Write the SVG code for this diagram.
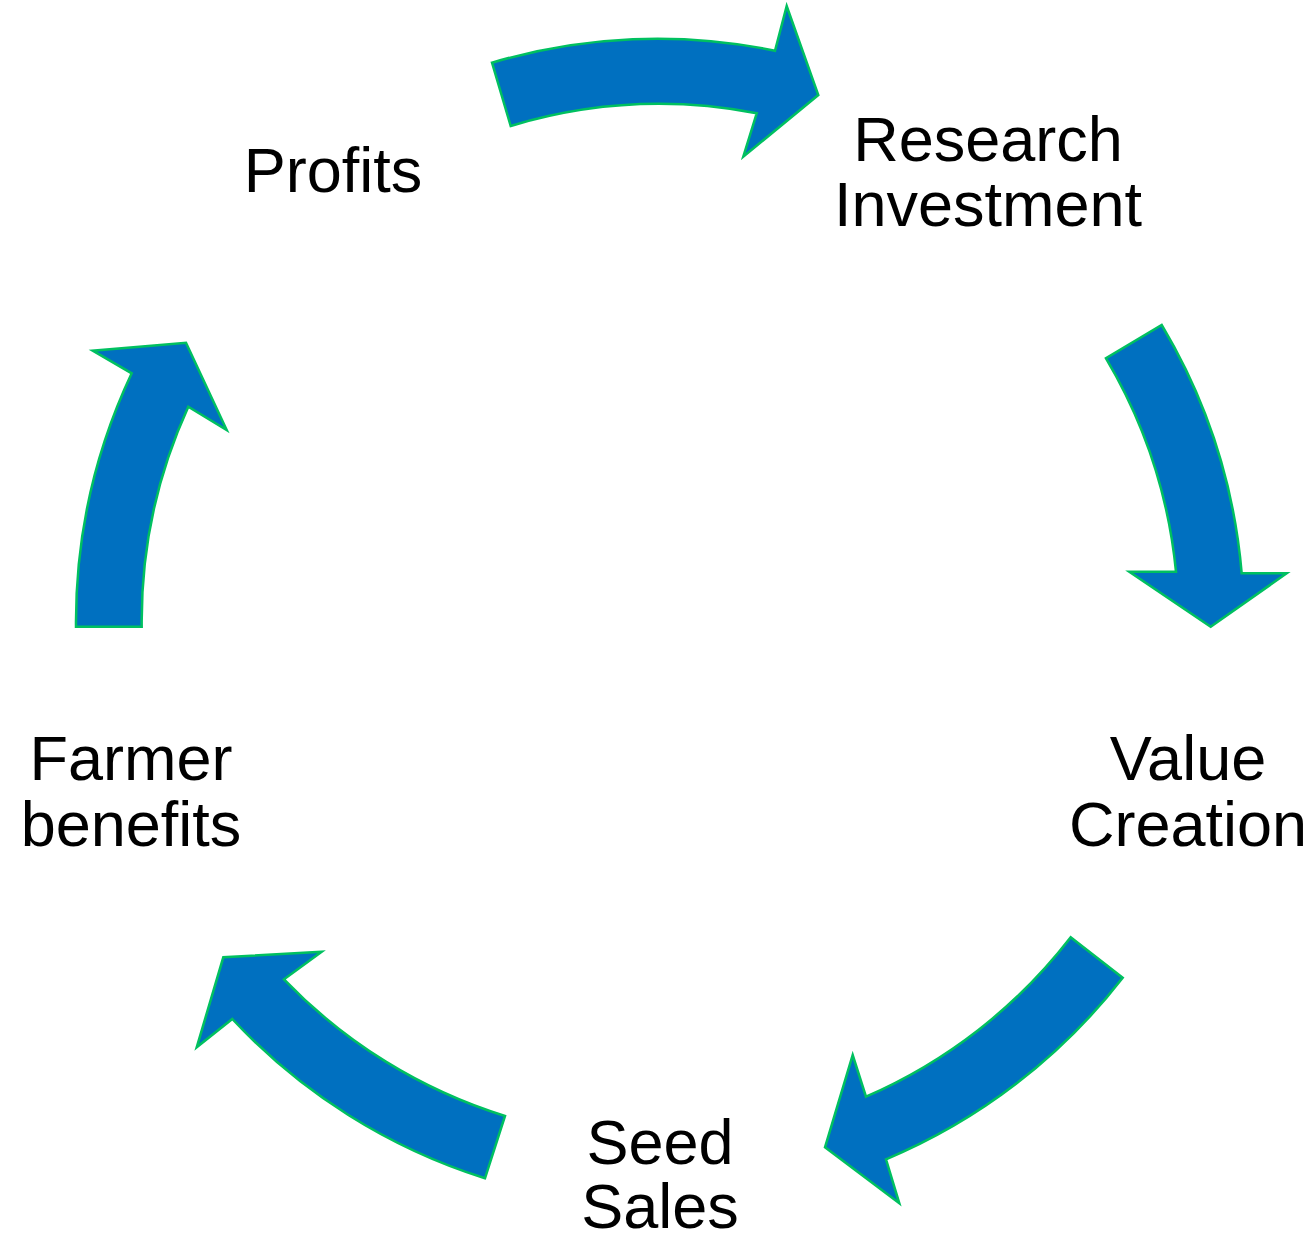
<svg xmlns="http://www.w3.org/2000/svg" width="1314" height="1239" viewBox="0 0 1314 1239">
  <style>
    .label { font-family: "Liberation Sans", Arial, sans-serif; font-size: 63px; fill: #000000; text-anchor: middle; }
    .arrow { fill: #0070C0; stroke: #00C060; stroke-width: 2.5; stroke-linejoin: miter; }
  </style>
  <rect width="1314" height="1239" fill="#ffffff"/>

  <!-- curved block arrows around the cycle -->
  <g id="connectors">
    <path id="arrow-profits-research" class="arrow" d="M492,62.7 A581,581 0 0 1 775,50.7 L786.7,6 L818.3,95 L743.3,156.7 L756.7,113.3 A516,516 0 0 0 510.7,126 Z"/>
    <path id="arrow-research-value" class="arrow" d="M1161.7,325 A582,582 0 0 1 1241.7,573.3 L1286.7,573.3 L1210.7,626.7 L1129.3,571.7 L1176,571.7 A517,517 0 0 0 1106,358.3 Z"/>
    <path id="arrow-value-seed" class="arrow" d="M1122.7,977.7 A586,586 0 0 1 886,1159.3 L899.3,1203.3 L825,1147.3 L852.7,1055 L866,1096.7 A521,521 0 0 0 1070.7,937.3 Z"/>
    <path id="arrow-seed-farmer" class="arrow" d="M485,1178.3 A587,587 0 0 1 232.3,1019 L196.7,1047.3 L223.3,957.3 L321.7,951.7 L284,979.3 A521,521 0 0 0 505,1116 Z"/>
    <path id="arrow-farmer-profits" class="arrow" d="M76,626.7 A584,584 0 0 1 131.7,373.3 L92.7,350.7 L186,342.7 L226.7,430 L188.3,406.7 A517,517 0 0 0 141.7,626.7 Z"/>
  </g>

  <g id="node-profits">
    <text class="label" x="333" y="192">Profits</text>
  </g>
  <g id="node-research-investment">
    <text class="label" x="988" y="161">Research</text>
    <text class="label" x="988" y="226">Investment</text>
  </g>
  <g id="node-value-creation">
    <text class="label" x="1188" y="780">Value</text>
    <text class="label" x="1188" y="846">Creation</text>
  </g>
  <g id="node-seed-sales">
    <text class="label" x="660" y="1164">Seed</text>
    <text class="label" x="660" y="1228">Sales</text>
  </g>
  <g id="node-farmer-benefits">
    <text class="label" x="131" y="780">Farmer</text>
    <text class="label" x="131" y="846">benefits</text>
  </g>
</svg>
